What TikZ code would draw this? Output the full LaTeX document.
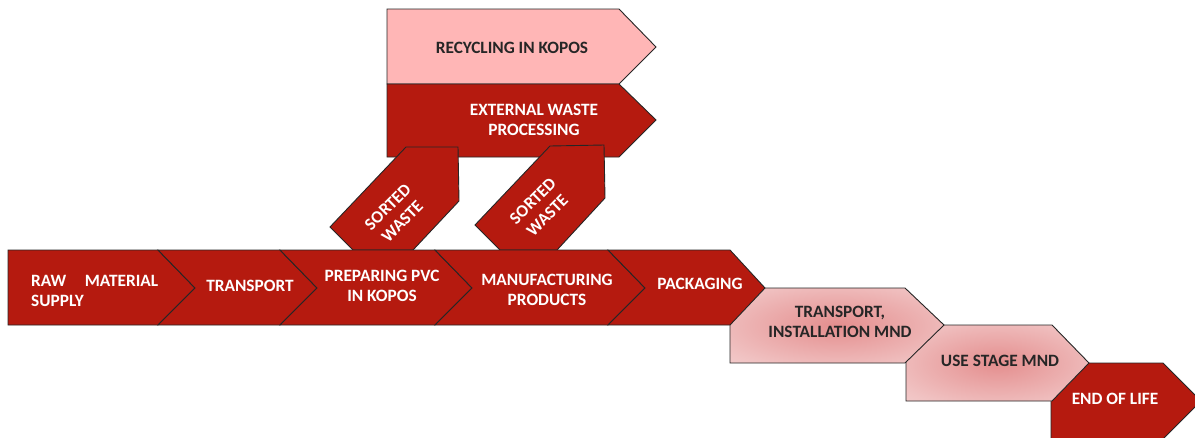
\documentclass[tikz,border=0pt]{standalone}
\usepackage{fontspec}
\setmainfont{Carlito}
\definecolor{kred}{RGB}{181,26,15}
\definecolor{kpink}{RGB}{255,182,182}
\definecolor{kline}{RGB}{38,38,38}
\definecolor{pinkin}{RGB}{228,142,142}
\definecolor{pinkout}{RGB}{247,222,222}
\pgfdeclareradialshading{pinkglow}{\pgfpoint{0bp}{0bp}}{color(0bp)=(pinkin); color(30bp)=(pinkout!65!pinkin); color(50bp)=(pinkout)}
\tikzset{
  darkbox/.style={fill=kred, draw=kline, line width=0.9pt, line join=miter},
  pinkbox/.style={fill=kpink, draw=kline, line width=0.9pt, line join=miter},
  glowbox/.style={shading=pinkglow, draw=kline, line width=0.9pt, line join=miter},
  lbl/.style={font=\fontsize{17.3}{20.5}\selectfont\bfseries, text=white, align=center, inner sep=0pt},
  dlbl/.style={lbl, text=black!85}
}
\begin{document}
\begin{tikzpicture}[x=1pt,y=-1pt]
\clip (0,0) rectangle (1195,437);
\fill[white] (0,0) rectangle (1195,437);
% top boxes
\path[pinkbox] (387,9) -- (619,9) -- (656,47) -- (619,84) -- (387,84) -- cycle;
\path[darkbox] (387,84) -- (619,84) -- (656,120) -- (619,157) -- (387,157) -- cycle;
% sorted waste
\path[darkbox] (406,147) -- (458,147) -- (459,201) -- (413,250) -- (353,250) -- (330,227) -- cycle;
\path[darkbox] (550,146) -- (604,145) -- (605,198) -- (557,250) -- (500,250) -- (475,225) -- cycle;
% lower stages
\path[darkbox] (1051,363) -- (1163,363) -- (1201,401) -- (1163,439) -- (1051,439) -- cycle;
\path[glowbox] (906,325) -- (1052,325) -- (1089,363) -- (1052,401) -- (906,401) -- cycle;
\path[glowbox] (730,288) -- (905,288) -- (944,325) -- (905,363) -- (730,363) -- cycle;
% main row
\path[darkbox] (8,250) -- (158,250) -- (195,288) -- (158,325) -- (8,325) -- cycle;
\path[darkbox] (158,250) -- (280,250) -- (317,288) -- (280,325) -- (158,325) -- (195,288) -- cycle;
\path[darkbox] (280,250) -- (435,250) -- (472,288) -- (435,325) -- (280,325) -- (317,288) -- cycle;
\path[darkbox] (435,250) -- (608,250) -- (645,288) -- (608,325) -- (435,325) -- (472,288) -- cycle;
\path[darkbox] (608,250) -- (730,250) -- (765,288) -- (730,325) -- (608,325) -- (645,288) -- cycle;
% labels
\node[dlbl] (rec) at (512,48) {RECYCLING IN KOPOS};
\node[lbl] (ext) at (534,120) {EXTERNAL WASTE\\PROCESSING};
\node[lbl, rotate=45] (sw1) at (395,214) {SORTED\\WASTE};
\node[lbl, rotate=45] (sw2) at (540,208) {SORTED\\WASTE};
\node[lbl, align=left, anchor=west] (raw) at (31,291) {\makebox[127pt][s]{RAW\hfill MATERIAL}\\SUPPLY};
\node[lbl] (tr) at (250,286) {TRANSPORT};
\node[lbl] (prep) at (382,286) {PREPARING PVC\\IN KOPOS};
\node[lbl] (man) at (547,290) {MANUFACTURING\\PRODUCTS};
\node[lbl] (pack) at (700,284) {PACKAGING};
\node[dlbl] (inst) at (840,322) {TRANSPORT,\\INSTALLATION MND};
\node[dlbl] (use) at (1000,361) {USE STAGE MND};
\node[lbl] (eol) at (1115,399) {END OF LIFE};
\end{tikzpicture}
\end{document}
